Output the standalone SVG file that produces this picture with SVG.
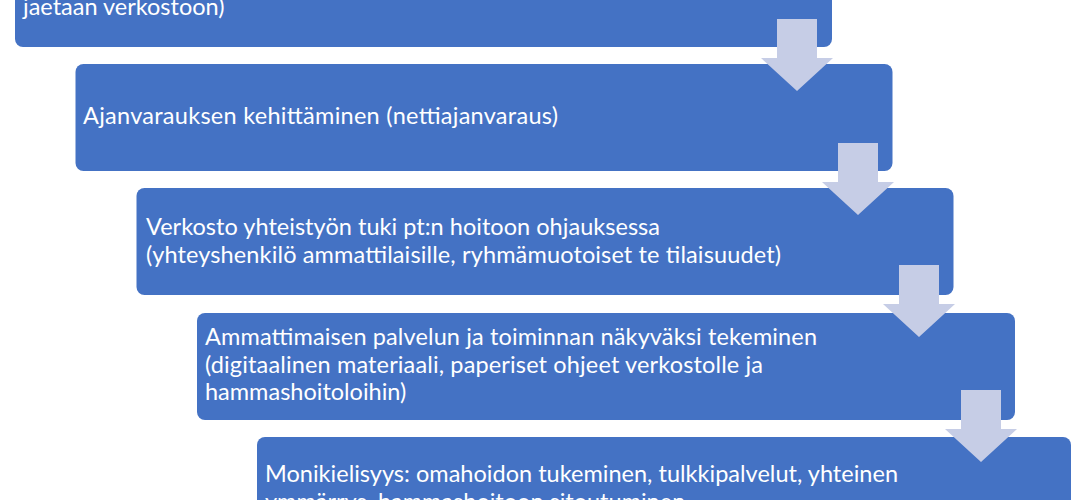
<svg xmlns="http://www.w3.org/2000/svg" xmlns:xlink="http://www.w3.org/1999/xlink" width="1090" height="500" viewBox="0 0 1090 500">
  <style>
    .box { fill: #4472c4; }
    .lbl { fill: #ffffff; font-family: "Lato", "Open Sans", "Liberation Sans", sans-serif; font-size: 23.5px; }
    .arr { fill: #c6cde6; }
  </style>
  <defs>
    <path id="downArrow" d="M -20 -72 L 20 -72 L 20 -33 L 36 -33 L 0 0 L -36 -33 L -20 -33 Z"/>
  </defs>
  <rect width="1090" height="500" fill="#ffffff"/>
  <g id="node1">
    <rect class="box" x="15" y="-60" width="817" height="107" rx="8"/>
    <text class="lbl" x="23" y="15">jaetaan verkostoon)</text>
  </g>
  <g id="node2">
    <rect class="box" x="75.5" y="64" width="817" height="107" rx="8"/>
    <text class="lbl" x="83" y="124" textLength="475">Ajanvarauksen kehittäminen (nettiajanvaraus)</text>
  </g>
  <g id="node3">
    <rect class="box" x="136.5" y="188" width="817" height="107" rx="8"/>
    <text class="lbl" x="146" y="235" textLength="514">Verkosto yhteistyön tuki pt:n hoitoon ohjauksessa</text>
    <text class="lbl" x="146" y="263" textLength="635">(yhteyshenkilö ammattilaisille, ryhmämuotoiset te tilaisuudet)</text>
  </g>
  <g id="node4">
    <rect class="box" x="197" y="313" width="818" height="107" rx="8"/>
    <text class="lbl" x="205" y="345" textLength="612">Ammattimaisen palvelun ja toiminnan näkyväksi tekeminen</text>
    <text class="lbl" x="205" y="373" textLength="558">(digitaalinen materiaali, paperiset ohjeet verkostolle ja</text>
    <text class="lbl" x="205" y="400">hammashoitoloihin)</text>
  </g>
  <g id="node5">
    <rect class="box" x="257" y="437" width="814" height="107" rx="8"/>
    <text class="lbl" x="265" y="482" textLength="633">Monikielisyys: omahoidon tukeminen, tulkkipalvelut, yhteinen</text>
    <text class="lbl" x="265" y="510">ymmärrys, hammashoitoon sitoutuminen</text>
  </g>
  <g id="connectors">
    <use xlink:href="#downArrow" href="#downArrow" class="arr" transform="translate(797,91)"/>
    <use xlink:href="#downArrow" href="#downArrow" class="arr" transform="translate(858,215)"/>
    <use xlink:href="#downArrow" href="#downArrow" class="arr" transform="translate(919,337)"/>
    <use xlink:href="#downArrow" href="#downArrow" class="arr" transform="translate(981,462)"/>
  </g>
</svg>
